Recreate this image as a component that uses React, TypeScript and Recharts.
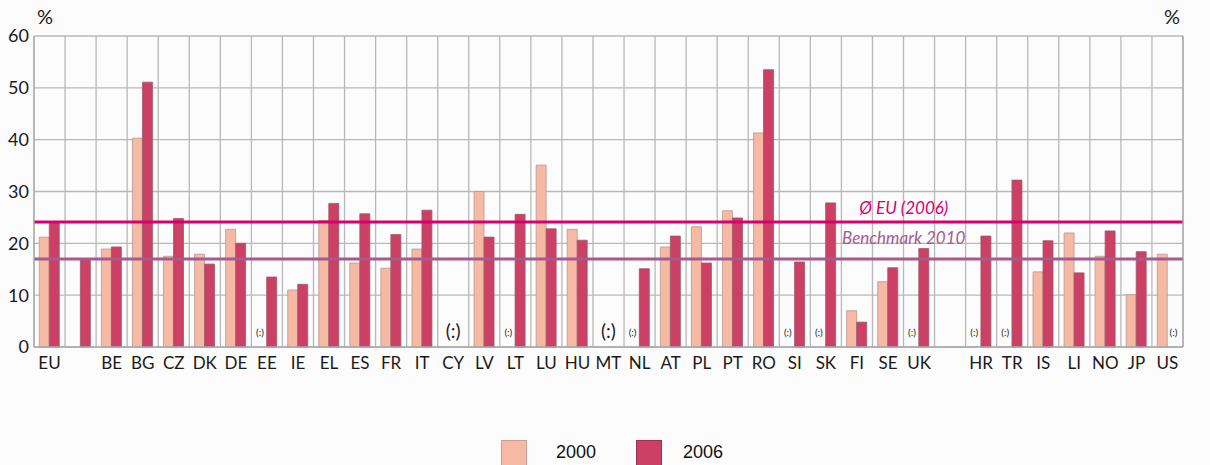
import { BarChart, Bar, XAxis, YAxis, CartesianGrid, ReferenceLine, Legend } from "recharts";

const COUNTRIES = ["EU", "", "BE", "BG", "CZ", "DK", "DE", "EE", "IE", "EL", "ES", "FR", "IT", "CY", "LV", "LT", "LU", "HU", "MT", "NL", "AT", "PL", "PT", "RO", "SI", "SK", "FI", "SE", "UK", "", "HR", "TR", "IS", "LI", "NO", "JP", "US"];
const Y2000 = [21.2, null, 18.9, 40.3, 17.5, 17.9, 22.7, null, 11.0, 24.4, 16.2, 15.2, 18.9, null, 30.0, null, 35.1, 22.7, null, null, 19.3, 23.2, 26.3, 41.3, null, null, 7.0, 12.6, null, null, null, null, 14.5, 22.0, 17.5, 10.1, 17.9];
const Y2006 = [24.1, 17.0, 19.3, 51.1, 24.8, 16.0, 20.0, 13.5, 12.1, 27.7, 25.7, 21.7, 26.4, null, 21.2, 25.6, 22.8, 20.6, null, 15.1, 21.4, 16.2, 24.9, 53.5, 16.4, 27.8, 4.8, 15.3, 19.0, null, 21.4, 32.2, 20.5, 14.3, 22.4, 18.4, null];
// "(:)" = not available
const NOT_AVAILABLE: Record<string, "2000" | "2006" | "both"> = {
  EE: "2000", CY: "both", LT: "2000", MT: "both", NL: "2000", SI: "2000",
  SK: "2000", UK: "2000", HR: "2000", TR: "2000", US: "2006",
};
const Y_TICKS = [0, 10, 20, 30, 40, 50, 60];
const EU_AVG_2006 = 24.1;
const BENCHMARK_2010 = 17;

const data = COUNTRIES.map((c, i) => ({ key: `c${i}`, name: c, y2000: Y2000[i], y2006: Y2006[i] }));

const FONT = "Lato, 'Open Sans', sans-serif";
const C2000 = "#F6B9A3";
const C2006 = "#CD4066";
const GRID = "#b8b8b8";

function CountryTick({ x, y, payload }: any) {
  const name = COUNTRIES[payload.index] ?? "";
  const na = NOT_AVAILABLE[name];
  return (
    <g>
      <text x={x} y={y} dy={14} textAnchor="middle" fontSize={17} fontFamily={FONT} fill="#1a1a1a">{name}</text>
      {na === "both" && (
        <text x={x} y={y - 17} textAnchor="middle" fontSize={19} fontFamily={FONT} fill="#1a1a1a">(:)</text>
      )}
      {(na === "2000" || na === "2006") && (
        <text x={na === "2000" ? x - 7 : x + 6} y={y - 19} textAnchor="middle" fontSize={10} fontFamily={FONT} fill="#1a1a1a">(:)</text>
      )}
    </g>
  );
}

function LegendBox() {
  return (
    <div style={{ position: "relative", width: 1210, height: 30, fontFamily: "'Liberation Sans', Arial, sans-serif", fontSize: 18, color: "#111" }}>
      <span style={{ position: "absolute", left: 501, top: 2, width: 26, height: 26, background: C2000, border: "1px solid #c9a090", boxSizing: "border-box" }} />
      <span style={{ position: "absolute", left: 556, top: 4 }}>2000</span>
      <span style={{ position: "absolute", left: 636, top: 2, width: 26, height: 26, background: C2006, border: "1px solid #a03050", boxSizing: "border-box" }} />
      <span style={{ position: "absolute", left: 683, top: 4 }}>2006</span>
    </div>
  );
}

export default function App() {
  const yTick = { fontSize: 18, fontFamily: FONT, fill: "#1a1a1a" };
  return (
    <div style={{ position: "absolute", left: 0, top: 0, width: 1210, height: 465, background: "#fcfcfc" }}>
      <div style={{ position: "absolute", left: 37, top: 4, fontFamily: FONT, fontSize: 20, color: "#1a1a1a" }}>%</div>
      <div style={{ position: "absolute", left: 1164, top: 4, fontFamily: FONT, fontSize: 20, color: "#1a1a1a" }}>%</div>
      <BarChart
        width={1210}
        height={465}
        data={data}
        margin={{ top: 36, right: 0, bottom: 58, left: 0 }}
        barCategoryGap="17%"
        barGap={0}
      >
        <CartesianGrid
          stroke={GRID}
          strokeWidth={1.3}
          verticalCoordinatesGenerator={({ offset }: any) =>
            COUNTRIES.map((_, i) => offset.left + (i * offset.width) / COUNTRIES.length).concat(offset.left + offset.width)
          }
        />
        <XAxis dataKey="key" interval={0} tickLine={false} axisLine={{ stroke: "#aaa", strokeWidth: 1.3 }} height={30} tick={<CountryTick />} />
        <YAxis yAxisId={0} domain={[0, 60]} ticks={Y_TICKS} width={34} tickLine={false} tickSize={2} tickMargin={3} axisLine={{ stroke: "#aaa", strokeWidth: 1.3 }} tick={yTick} />
        <YAxis yAxisId="r" orientation="right" domain={[0, 60]} ticks={Y_TICKS} width={27} tickLine={false} tickSize={2} tickMargin={4} axisLine={{ stroke: "#aaa", strokeWidth: 1.3 }} tick={{ ...yTick, textAnchor: "start" }} />
        <Bar dataKey="y2000" fill={C2000} stroke="#b79a90" strokeWidth={0.8} isAnimationActive={false} />
        <Bar dataKey="y2006" fill={C2006} stroke="#9a5a6a" strokeWidth={0.8} isAnimationActive={false} />
        <ReferenceLine
          y={EU_AVG_2006}
          stroke="#D6006F"
          strokeWidth={3}
          label={(p: any) => (
            <text x={p.viewBox.x + p.viewBox.width * 0.757} y={p.viewBox.y - 8} textAnchor="middle" fontSize={17} fontStyle="italic" fontFamily={FONT} fill="#D6006F">Ø EU (2006)</text>
          )}
        />
        <ReferenceLine
          y={BENCHMARK_2010}
          stroke="#A65A8D"
          strokeWidth={3}
          label={(p: any) => (
            <text x={p.viewBox.x + p.viewBox.width * 0.757} y={p.viewBox.y - 15} textAnchor="middle" fontSize={17} fontStyle="italic" fontFamily={FONT} fill="#A65A8D">Benchmark 2010</text>
          )}
        />
        <Legend verticalAlign="bottom" wrapperStyle={{ position: "absolute", left: 0, top: 438, bottom: "auto", width: 1210 }} content={() => <LegendBox />} />
      </BarChart>
    </div>
  );
}
